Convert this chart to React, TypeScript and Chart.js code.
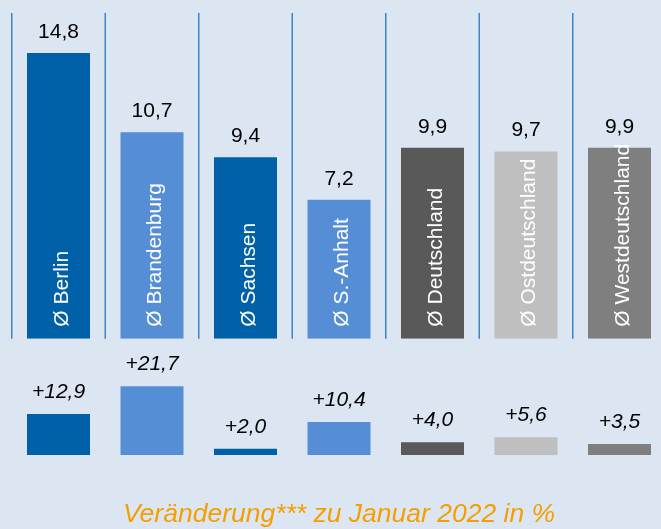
import React, { useEffect, useRef } from 'react';
import { Chart, registerables } from 'chart.js';

Chart.register(...registerables);

// ---- data ----
const categories = ['Berlin', 'Brandenburg', 'Sachsen', 'S.-Anhalt', 'Deutschland', 'Ostdeutschland', 'Westdeutschland'];
const levelValues = [14.8, 10.7, 9.4, 7.2, 9.9, 9.7, 9.9];
const changeValues = [12.9, 21.7, 2.0, 10.4, 4.0, 5.6, 3.5];
const barColors = ['#0060A8', '#558ED5', '#0060A8', '#558ED5', '#595959', '#BFBFBF', '#7F7F7F'];
const captionText = 'Veränderung*** zu Januar 2022 in %';

const FONT = '"Liberation Sans", Arial, sans-serif';
const BG = '#DCE6F2';

const fmt = (v: number) => v.toFixed(1).replace('.', ',');

const overlayPlugin = {
  id: 'overlay',
  beforeDraw(chart: any) {
    const { ctx, width, height } = chart;
    ctx.save();
    ctx.fillStyle = BG;
    ctx.fillRect(0, 0, width, height);
    ctx.restore();
  },
  beforeDatasetsDraw(chart: any) {
    const { ctx, chartArea, scales } = chart;
    const x = scales.x;
    const yTop = scales.yTop;
    const step = x.getPixelForValue(1) - x.getPixelForValue(0);
    const base = yTop.getPixelForValue(0);
    ctx.save();
    ctx.strokeStyle = '#3F83C6';
    ctx.lineWidth = 1.5;
    for (let i = 0; i <= categories.length; i++) {
      const px = x.getPixelForValue(i) - step / 2;
      ctx.beginPath();
      ctx.moveTo(px, chartArea.top);
      ctx.lineTo(px, base);
      ctx.stroke();
    }
    ctx.restore();
  },
  afterDatasetsDraw(chart: any) {
    const { ctx } = chart;
    const topMeta = chart.getDatasetMeta(0);
    const bottomMeta = chart.getDatasetMeta(1);
    ctx.save();
    ctx.fillStyle = '#000000';
    ctx.textAlign = 'center';
    ctx.textBaseline = 'alphabetic';
    ctx.font = `21px ${FONT}`;
    topMeta.data.forEach((bar: any, i: number) => {
      ctx.fillText(fmt(levelValues[i]), bar.x, bar.y - 15);
    });
    ctx.font = `italic 21px ${FONT}`;
    bottomMeta.data.forEach((bar: any, i: number) => {
      ctx.fillText('+' + fmt(changeValues[i]), bar.x, bar.y - 16);
    });
    ctx.fillStyle = '#FFFFFF';
    ctx.font = `21px ${FONT}`;
    ctx.textAlign = 'left';
    topMeta.data.forEach((bar: any, i: number) => {
      ctx.save();
      ctx.translate(bar.x + 9, bar.base - 12);
      ctx.rotate(-Math.PI / 2);
      ctx.fillText('Ø ' + categories[i], 0, 0);
      ctx.restore();
    });
    ctx.restore();
  },
};

export default function App() {
  const canvasRef = useRef<HTMLCanvasElement | null>(null);

  useEffect(() => {
    if (!canvasRef.current) return;
    const chart = new Chart(canvasRef.current, {
      type: 'bar',
      data: {
        labels: categories,
        datasets: [
          {
            data: levelValues,
            yAxisID: 'yTop',
            backgroundColor: barColors,
            borderWidth: 0,
            barPercentage: 0.674,
            categoryPercentage: 1,
            grouped: false,
          },
          {
            data: changeValues,
            yAxisID: 'yBottom',
            backgroundColor: barColors,
            borderWidth: 0,
            barPercentage: 0.674,
            categoryPercentage: 1,
            grouped: false,
          },
        ],
      },
      options: {
        responsive: false,
        animation: false,
        devicePixelRatio: 1,
        layout: { padding: { left: 11.75, right: 13.75, top: 13, bottom: 0 } },
        plugins: {
          legend: { display: false },
          tooltip: { enabled: false },
          title: {
            display: true,
            text: captionText,
            position: 'bottom',
            color: '#F49E00',
            font: { family: FONT, size: 26.5, style: 'italic', weight: 'normal', lineHeight: 1 },
            padding: { top: 21.5, bottom: 1 },
          },
        },
        scales: {
          x: { type: 'category', display: false, offset: true, grid: { display: false } },
          yTop: {
            type: 'linear',
            display: false,
            position: 'left',
            stack: 'rows',
            stackWeight: 325.7,
            weight: 2,
            min: 0,
            max: 16.876,
          },
          yBottom: {
            type: 'linear',
            display: false,
            position: 'left',
            stack: 'rows',
            stackWeight: 141.3,
            weight: 1,
            min: -7.89,
            max: 36.69,
          },
        },
      },
      plugins: [overlayPlugin],
    } as any);
    return () => chart.destroy();
  }, []);

  return (
    <div style={{ position: 'fixed', left: 0, top: 0, width: 661, height: 529, overflow: 'hidden', background: BG }}>
      <canvas ref={canvasRef} width={680} height={529} style={{ display: 'block' }} />
    </div>
  );
}
